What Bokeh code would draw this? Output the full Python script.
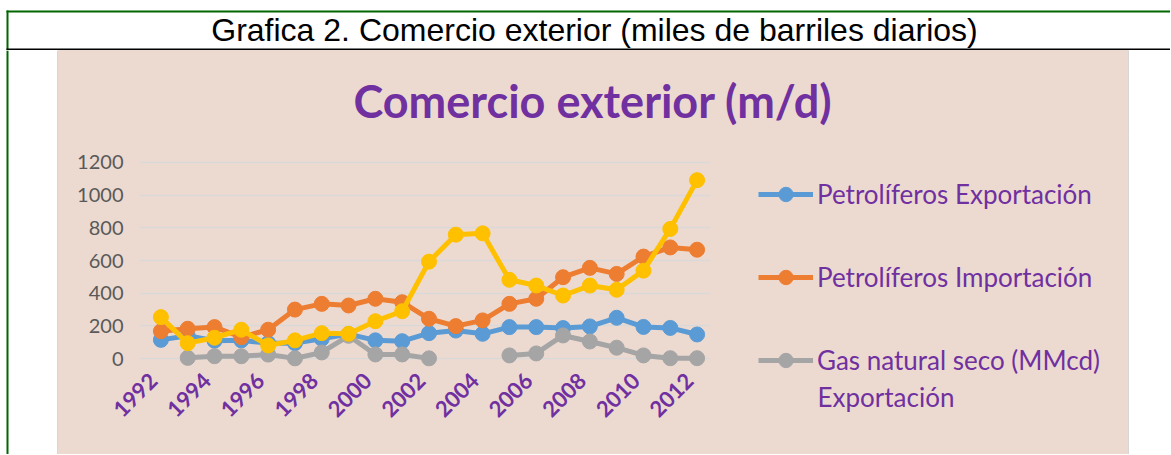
import math
import numpy as np
from bokeh.plotting import figure
from bokeh.layouts import column, row
from bokeh.models import Range1d, FixedTicker, Label, Legend, LegendItem, LinearAxis
from bokeh.embed import file_html
from bokeh.resources import INLINE

nan = np.nan
years = list(range(1992, 2013))
x_tick_years = list(range(1992, 2013, 2))
y_ticks = [0, 200, 400, 600, 800, 1000, 1200]

petroliferos_exportacion = [115, 140, 110, 112, 95, 95, 122, 150, 112, 107, 156, 172, 152, 193, 193, 187, 197, 250, 194, 188, 148]
petroliferos_importacion = [168, 183, 193, 132, 177, 300, 335, 325, 366, 345, 244, 199, 234, 335, 366, 498, 555, 518, 624, 680, 666]
gas_natural_exportacion = [nan, 5, 15, 15, 25, 2, 38, 140, 26, 26, 2, nan, nan, 20, 32, 142, 105, 67, 20, 3, 3]
serie_4 = [254, 95, 128, 177, 81, 112, 156, 152, 229, 290, 593, 758, 766, 482, 447, 386, 447, 421, 538, 793, 1091]

legend_labels = ["Petrolíferos Exportación", "Petrolíferos Importación", "Gas natural seco (MMcd)"]
legend_second_line = "Exportación"
chart_title = "Comercio exterior (m/d)"
page_title = "Grafica 2. Comercio exterior (miles de barriles diarios)"

BLUE, ORANGE, GRAY, YELLOW = "#5B9BD5", "#ED7D31", "#A5A5A5", "#FFC000"
BEIGE = "#ECDAD1"
PURPLE = "#7030A0"
GREEN = "#006600"
EDGE = "#D6D6D6"

series = [(petroliferos_exportacion, BLUE, legend_labels[0]),
          (petroliferos_importacion, ORANGE, legend_labels[1]),
          (gas_natural_exportacion, GRAY, legend_labels[2]),
          (serie_4, YELLOW, None)]


def no_align(f):
    if "frame_align" in f.properties():
        f.frame_align = False
    return f


def panel(w, h, xr, yr, bg):
    f = figure(width=w, height=h, x_range=xr, y_range=yr, min_border=0,
               x_axis_type=None, y_axis_type=None, output_backend="svg",
               toolbar_location=None, background_fill_alpha=0, border_fill_color=bg,
               outline_line_color=None)
    return no_align(f)


# ---- top strip: page title with frame lines ----
TOTAL_W = 1170
top = panel(TOTAL_W, 50, Range1d(0, TOTAL_W), Range1d(50, 0), "white")
top.quad(left=[6], right=[TOTAL_W], top=[10], bottom=[12], fill_color=GREEN, line_color=None)
top.quad(left=[6], right=[8], top=[10], bottom=[50], fill_color=GREEN, line_color=None)
top.quad(left=[6], right=[TOTAL_W], top=[48], bottom=[50], fill_color="black", line_color=None)
top.add_layout(Label(x=594, y=21, x_units="screen", y_units="screen", text=page_title,
                     text_font="Liberation Sans", text_font_size="32px", text_color="black",
                     text_align="center", text_baseline="middle"))

# ---- left white strip with green border ----
left = panel(58, 404, Range1d(0, 58), Range1d(0, 404), "white")
left.quad(left=[6], right=[8], top=[404], bottom=[0], fill_color=GREEN, line_color=None)
left.quad(left=[56.5], right=[58], top=[404], bottom=[0], fill_color=EDGE, line_color=None)

# ---- chart title strip ----
ctitle = panel(1071, 85, Range1d(0, 1071), Range1d(85, 0), BEIGE)
ctitle.add_layout(Label(x=534.5, y=35, x_units="screen", y_units="screen", text=chart_title,
                        text_font="Lato", text_font_style="bold", text_font_size="45px",
                        text_color=PURPLE, text_align="center", text_baseline="middle"))
ctitle.quad(left=[1069.5], right=[1071], top=[0], bottom=[85], fill_color=EDGE, line_color=None)

# ---- main chart ----
PX_PER_YEAR = 563 / 21.0
EXTRA = 8  # px of frame to the left of the first category band
x_start = 1991.5 - EXTRA / PX_PER_YEAR
p = figure(frame_width=563 + EXTRA, frame_height=216,
           min_border_left=89 - EXTRA, min_border_right=20, min_border_top=17, min_border_bottom=86,
           x_range=Range1d(x_start, 2012.5), y_range=Range1d(-60, 1260),
           output_backend="svg", toolbar_location=None,
           background_fill_alpha=0, border_fill_color=BEIGE, outline_line_color=None)
no_align(p)
# axis for the rotated year labels, offset like Excel's rotated category labels
p.extra_x_ranges = {"lbl": Range1d(x_start + EXTRA / PX_PER_YEAR, 2012.5 + EXTRA / PX_PER_YEAR)}
p.xaxis.visible = False
xlab = LinearAxis(x_range_name="lbl", ticker=FixedTicker(ticks=x_tick_years))
p.add_layout(xlab, "below")
p.xgrid.visible = False
p.ygrid.grid_line_color = "#D9D9D9"
p.ygrid.grid_line_width = 1.5
p.yaxis.ticker = FixedTicker(ticks=y_ticks)
for ax in (xlab, p.yaxis[0]):
    ax.axis_line_color = None
    ax.major_tick_line_color = None
    ax.minor_tick_line_color = None
    ax.major_tick_out = 0
    ax.major_tick_in = 0
    ax.minor_tick_out = 0
p.yaxis.major_label_text_font = "Lato"
p.yaxis.major_label_text_font_size = "20px"
p.yaxis.major_label_text_color = "#595959"
p.yaxis.major_label_standoff = 24 - EXTRA
xlab.major_label_text_font = "Lato"
xlab.major_label_text_font_style = "bold"
xlab.major_label_text_font_size = "22px"
xlab.major_label_text_color = PURPLE
xlab.major_label_orientation = math.pi / 4
xlab.major_label_standoff = 8

for vals, col, lab in series:
    p.line(years, vals, line_width=5, line_color=col)
    p.scatter(years, vals, size=15, fill_color=col, line_color=col)

# ---- legend panel (right of the chart) ----
lg = panel(399, 319, Range1d(0, 399), Range1d(0, 319), BEIGE)
items = []
for vals, col, lab in series:
    if lab is None:
        continue
    lr = lg.line(years, vals, line_width=5, line_color=col)
    sr = lg.scatter(years, vals, size=15, fill_color=col, line_color=col)
    items.append(LegendItem(label=lab, renderers=[lr, sr]))
legend = Legend(items=items, location=(28, 76), orientation="vertical",
                glyph_width=55, glyph_height=36, label_height=36, spacing=47,
                label_standoff=4, padding=0, margin=0,
                label_text_font="Lato", label_text_font_size="26px", label_text_color=PURPLE,
                border_line_color=None, background_fill_alpha=0)
lg.add_layout(legend, "center")
lg.add_layout(Label(x=87, y=58, x_units="screen", y_units="screen", text=legend_second_line,
                    text_font="Lato", text_font_size="26px", text_color=PURPLE,
                    text_baseline="middle"))
lg.quad(left=[397.5], right=[399], top=[319], bottom=[0], fill_color=EDGE, line_color=None)

beige_block = column(ctitle, row(p, column(lg)), styles={"background-color": BEIGE})
layout = column(top, row(left, beige_block))
open("out.html", "w").write(file_html(layout, INLINE))
